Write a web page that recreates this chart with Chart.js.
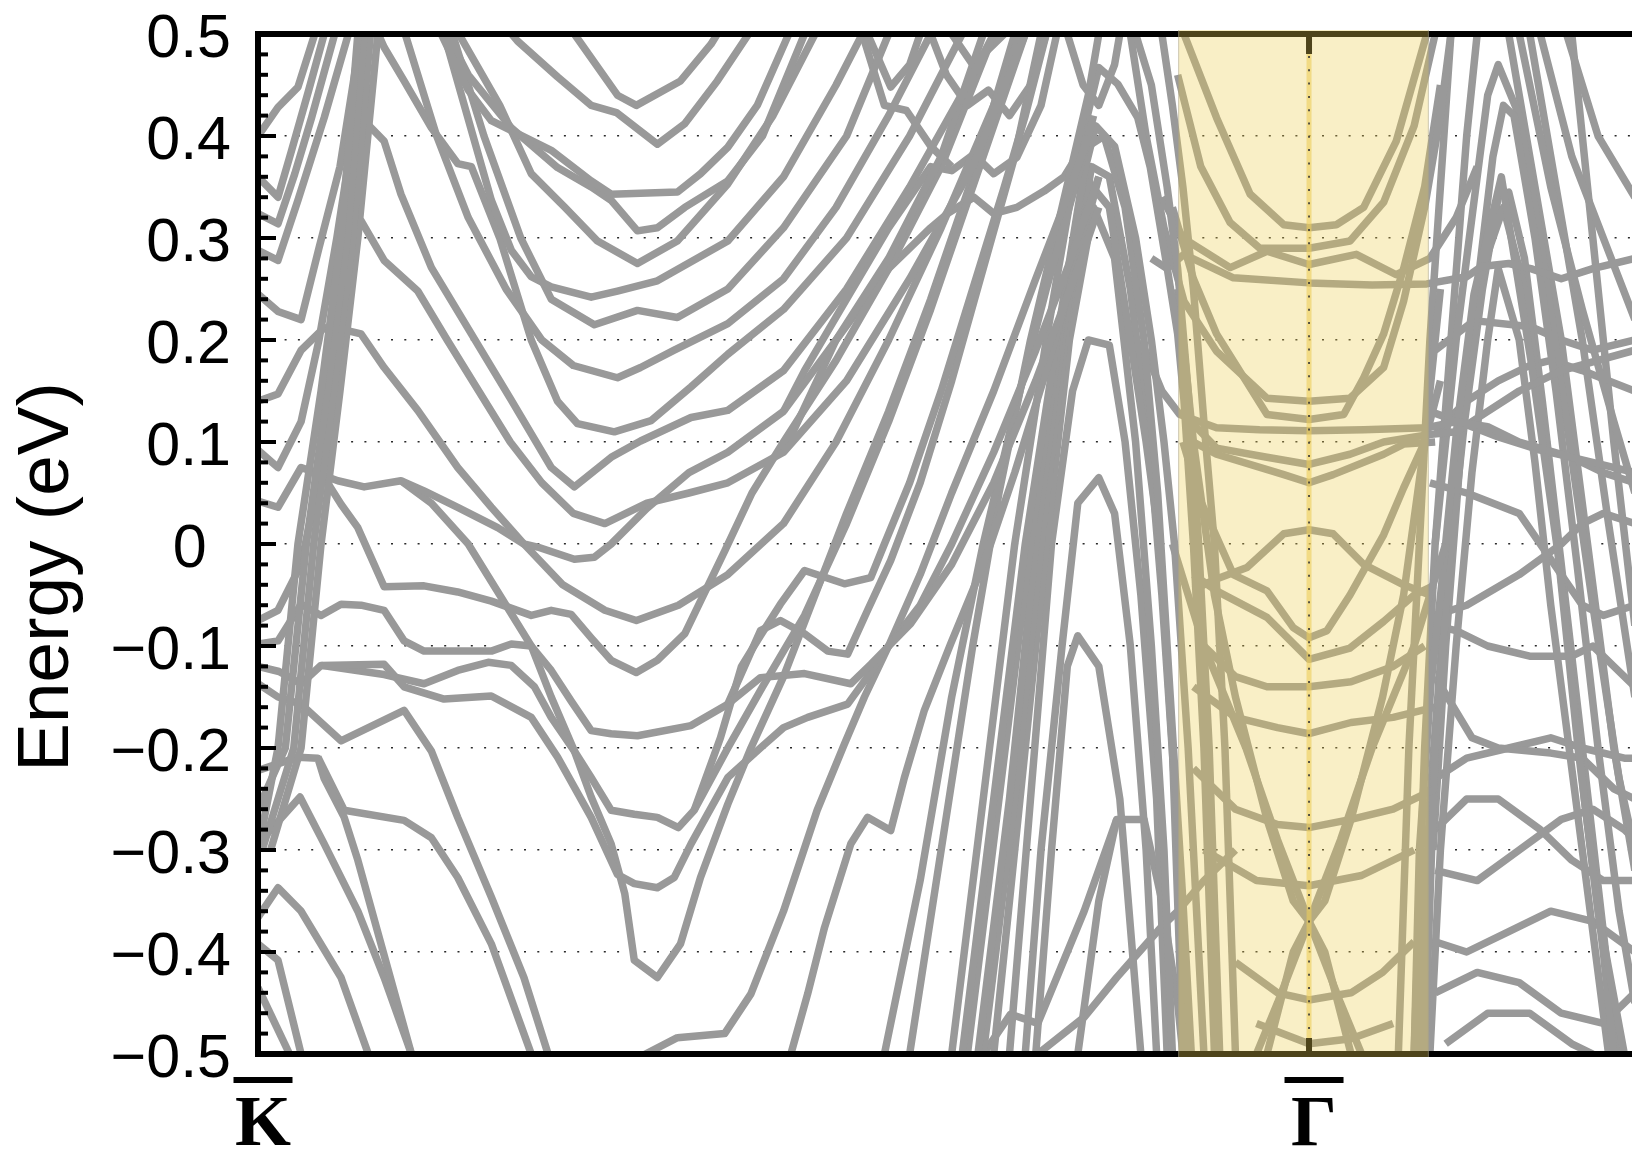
<!DOCTYPE html>
<html>
<head>
<meta charset="utf-8">
<script src="https://cdn.jsdelivr.net/npm/chart.js@4.4.1/dist/chart.umd.min.js"></script>
<style>
  html, body { margin: 0; padding: 0; background: #fff; overflow: hidden; }
  #wrap { position: relative; width: 1632px; height: 1153px; }
</style>
</head>
<body>
<div id="wrap"><canvas id="bands" width="1632" height="1153"></canvas></div>
<script>
// ---- path and axis values ----
const kPointLabels = ['K', 'Γ'];
const kPointPositions = [0, 1];          // K̄ = 0, Γ̄ = 1 along the path
const kVisibleEnd = 1.3073;              // path coordinate at the right edge
const energyTicks = [-0.5, -0.4, -0.3, -0.2, -0.1, 0, 0.1, 0.2, 0.3, 0.4, 0.5];
const highlightRange = [0.8755, 1.114];  // shaded window around Γ̄

// ---- bands, each a list of [k, E(eV)] points ----
// bands leaving K̄ and the steep bundle close to it
const bandsNearK = [
  [[0,-0.30],[0.019,-0.2],[0.038,0],[0.06,0.15],[0.079,0.3],[0.095,0.5]],
  [[0,-0.26],[0.026,-0.2],[0.046,0],[0.066,0.15],[0.085,0.3],[0.101,0.5]],
  [[0.004,-0.3],[0.034,-0.2],[0.053,0],[0.072,0.15],[0.09,0.3],[0.107,0.5]],
  [[0.012,-0.3],[0.041,-0.2],[0.06,0],[0.078,0.15],[0.095,0.3],[0.114,0.5]],
  [[0,0.40],[0.019,0.428],[0.038,0.448],[0.054,0.5]],
  [[0,0.36],[0.019,0.34],[0.032,0.386],[0.048,0.444],[0.063,0.5]],
  [[0,0.324],[0.019,0.314],[0.035,0.363],[0.051,0.418],[0.073,0.5]],
  [[0,0.288],[0.019,0.278],[0.038,0.337],[0.063,0.418],[0.086,0.5]],
  [[0,0.245],[0.019,0.228],[0.041,0.22],[0.058,0.29],[0.078,0.37],[0.098,0.5]],
  [[0,0.092],[0.019,0.075],[0.041,0.12],[0.058,0.2],[0.075,0.3],[0.09,0.4],[0.104,0.5]],
  [[0,-0.075],[0.019,-0.065],[0.041,-0.02],[0.055,0.05],[0.07,0.17],[0.085,0.32],[0.1,0.5]],
  [[0,-0.222],[0.038,-0.209],[0.057,-0.21],[0.063,-0.23],[0.082,-0.268],[0.095,-0.31],[0.146,-0.5]],
  [[0,-0.294],[0.04,-0.248],[0.063,-0.294],[0.095,-0.36],[0.12,-0.425],[0.146,-0.5]],
  [[0,-0.366],[0.019,-0.337],[0.041,-0.36],[0.079,-0.425],[0.105,-0.5]],
  [[0,-0.392],[0.019,-0.408],[0.041,-0.5]],
  [[0,-0.435],[0.03,-0.5]],
  [[0.057,-0.209],[0.082,-0.261],[0.139,-0.271],[0.165,-0.288],[0.19,-0.327],[0.222,-0.392],[0.26,-0.5]],
  [[0,-0.137],[0.019,-0.15],[0.041,-0.157],[0.079,-0.193],[0.139,-0.163],[0.165,-0.203],[0.19,-0.268],[0.222,-0.346],[0.253,-0.425],[0.276,-0.5]]
];

// nested valleys between K̄ and the middle of the path
const bandsValley = [
  [[0.301,0.5],[0.342,0.44],[0.36,0.43],[0.402,0.454],[0.431,0.49],[0.44,0.505]],
  [[0.225,0.52],[0.247,0.493],[0.285,0.458],[0.317,0.43],[0.341,0.423],[0.38,0.392],[0.406,0.412],[0.437,0.454],[0.47,0.505]],
  [[0.165,0.52],[0.2,0.445],[0.222,0.415],[0.279,0.386],[0.317,0.356],[0.336,0.343],[0.399,0.345],[0.421,0.363],[0.447,0.389],[0.475,0.43],[0.505,0.5]],
  [[0.17,0.52],[0.2,0.46],[0.241,0.408],[0.285,0.369],[0.317,0.35],[0.336,0.337],[0.361,0.307],[0.38,0.31],[0.406,0.33],[0.447,0.356],[0.48,0.4],[0.52,0.5]],
  [[0.18,0.52],[0.23,0.43],[0.26,0.363],[0.292,0.33],[0.323,0.297],[0.361,0.275],[0.399,0.297],[0.447,0.353],[0.49,0.42],[0.53,0.5]],
  [[0.177,0.5],[0.222,0.337],[0.241,0.288],[0.26,0.262],[0.279,0.252],[0.317,0.242],[0.342,0.248],[0.38,0.258],[0.447,0.297],[0.5,0.36],[0.55,0.45],[0.575,0.5]],
  [[0.185,0.5],[0.215,0.4],[0.25,0.3],[0.279,0.24],[0.32,0.215],[0.361,0.229],[0.399,0.222],[0.447,0.25],[0.5,0.31],[0.56,0.4],[0.6,0.5]],
  [[0.14,0.5],[0.17,0.4],[0.2,0.32],[0.236,0.25],[0.27,0.2],[0.3,0.175],[0.342,0.163],[0.364,0.173],[0.396,0.19],[0.447,0.216],[0.5,0.26],[0.55,0.33],[0.6,0.42],[0.64,0.5]],
  [[0.11,0.51],[0.12,0.487],[0.139,0.454],[0.165,0.408],[0.19,0.373],[0.203,0.37],[0.23,0.3],[0.26,0.2],[0.285,0.14],[0.304,0.118],[0.339,0.11],[0.374,0.121],[0.412,0.154],[0.447,0.186],[0.5,0.23],[0.56,0.3],[0.62,0.4],[0.67,0.5]],
  [[0.092,0.45],[0.101,0.415],[0.12,0.395],[0.136,0.343],[0.165,0.271],[0.203,0.206],[0.241,0.141],[0.279,0.075],[0.301,0.056],[0.336,0.085],[0.364,0.101],[0.412,0.124],[0.447,0.131],[0.5,0.17],[0.56,0.25],[0.62,0.35],[0.68,0.46],[0.7,0.5]],
  [[0.08,0.26],[0.098,0.317],[0.12,0.278],[0.152,0.248],[0.18,0.2],[0.21,0.15],[0.24,0.1],[0.27,0.06],[0.3,0.03],[0.33,0.02],[0.37,0.04],[0.41,0.05],[0.447,0.06],[0.5,0.09],[0.56,0.16],[0.62,0.26],[0.68,0.37],[0.73,0.5]],
  [[0,0.14],[0.019,0.147],[0.041,0.19],[0.063,0.212],[0.086,0.209],[0.098,0.206],[0.12,0.173],[0.152,0.131],[0.19,0.075],[0.222,0.036],[0.253,0.0],[0.266,-0.003],[0.301,-0.015],[0.32,-0.013],[0.336,0.0],[0.37,0.035],[0.41,0.07],[0.447,0.09],[0.5,0.13],[0.55,0.2],[0.6,0.28],[0.65,0.38],[0.69,0.5]],
  [[0,0.042],[0.019,0.036],[0.041,0.075],[0.076,0.062],[0.101,0.056],[0.136,0.062],[0.158,0.052],[0.19,0.036],[0.228,0.016],[0.253,0.0],[0.29,-0.04],[0.33,-0.065],[0.36,-0.075],[0.4,-0.06],[0.447,-0.03],[0.5,0.02],[0.55,0.1],[0.6,0.2],[0.65,0.31],[0.7,0.43],[0.725,0.5]],
  [[0.06,0.07],[0.079,0.039],[0.095,0.016],[0.12,-0.042],[0.158,-0.041],[0.19,-0.047],[0.222,-0.056],[0.26,-0.07],[0.279,-0.065],[0.298,-0.069],[0.317,-0.092],[0.336,-0.114],[0.36,-0.126],[0.38,-0.114],[0.406,-0.088],[0.444,-0.007],[0.47,0.05],[0.5,0.1],[0.55,0.18],[0.6,0.27],[0.65,0.37],[0.7,0.5]],
  [[0,-0.098],[0.019,-0.095],[0.041,-0.059],[0.06,-0.07],[0.079,-0.059],[0.098,-0.06],[0.12,-0.065],[0.139,-0.095],[0.158,-0.105],[0.222,-0.105],[0.241,-0.098],[0.26,-0.1],[0.279,-0.124],[0.298,-0.154],[0.317,-0.183],[0.336,-0.186],[0.361,-0.188],[0.412,-0.178],[0.447,-0.157],[0.478,-0.131],[0.52,-0.127],[0.564,-0.137],[0.583,-0.118],[0.621,-0.078],[0.66,-0.02],[0.7,0.06],[0.74,0.16],[0.78,0.27],[0.8,0.33]],
  [[0,-0.12],[0.02,-0.125],[0.041,-0.137],[0.06,-0.119],[0.12,-0.118],[0.139,-0.14],[0.177,-0.152],[0.222,-0.149],[0.26,-0.17],[0.285,-0.209],[0.317,-0.268],[0.342,-0.324],[0.358,-0.333],[0.38,-0.337],[0.396,-0.327],[0.412,-0.294],[0.447,-0.229],[0.478,-0.2],[0.5,-0.18],[0.523,-0.17],[0.561,-0.157],[0.58,-0.13],[0.6,-0.1],[0.63,-0.06],[0.66,0.0],[0.7,0.09],[0.74,0.19],[0.77,0.27],[0.79,0.33],[0.8,0.36]],
  [[0.06,-0.119],[0.12,-0.128],[0.158,-0.137],[0.19,-0.124],[0.219,-0.116],[0.241,-0.119],[0.263,-0.14],[0.279,-0.17],[0.301,-0.203],[0.317,-0.229],[0.336,-0.261],[0.358,-0.265],[0.38,-0.268],[0.4,-0.278],[0.415,-0.261],[0.447,-0.2],[0.48,-0.14],[0.52,-0.07],[0.56,0.02],[0.6,0.12],[0.64,0.23],[0.68,0.35],[0.72,0.47],[0.73,0.5]],
  [[0.136,0.062],[0.165,0.04],[0.2,0.0],[0.23,-0.05],[0.26,-0.1],[0.279,-0.15],[0.301,-0.203],[0.317,-0.248],[0.336,-0.294],[0.349,-0.343],[0.358,-0.408],[0.38,-0.425],[0.402,-0.392],[0.421,-0.327],[0.447,-0.255],[0.469,-0.2],[0.5,-0.13],[0.53,-0.05],[0.56,0.03],[0.6,0.13],[0.64,0.24],[0.68,0.36],[0.72,0.5]],
  [[0.35,-0.51],[0.399,-0.484],[0.444,-0.48],[0.469,-0.441],[0.5,-0.36],[0.532,-0.261],[0.558,-0.196],[0.577,-0.15],[0.6,-0.1],[0.63,-0.03],[0.66,0.05],[0.7,0.15],[0.74,0.26],[0.77,0.34],[0.79,0.4]]
];

// rising bands and zig-zags in the middle of the path
const bandsMiddle = [
  [[0.415,-0.261],[0.44,-0.19],[0.46,-0.12],[0.478,-0.09],[0.497,-0.059],[0.52,-0.026],[0.558,-0.039],[0.583,-0.033],[0.596,0.0],[0.62,0.06],[0.65,0.15],[0.68,0.25],[0.71,0.35],[0.73,0.42],[0.75,0.5]],
  [[0.447,-0.157],[0.478,-0.085],[0.497,-0.075],[0.52,-0.088],[0.542,-0.105],[0.561,-0.108],[0.58,-0.065],[0.602,-0.016],[0.63,0.06],[0.66,0.16],[0.69,0.27],[0.72,0.38],[0.745,0.5]],
  [[0.507,-0.5],[0.523,-0.441],[0.539,-0.376],[0.564,-0.294],[0.58,-0.268],[0.602,-0.281],[0.615,-0.229],[0.634,-0.163],[0.659,-0.098],[0.685,-0.033],[0.697,0],[0.72,0.07],[0.75,0.17],[0.78,0.28],[0.8,0.36]],
  [[0.596,-0.5],[0.63,-0.33],[0.66,-0.15],[0.69,0.0],[0.72,0.13],[0.75,0.25],[0.78,0.36],[0.795,0.42]],
  [[0.62,-0.5],[0.65,-0.3],[0.68,-0.1],[0.705,0.05],[0.735,0.2],[0.765,0.33],[0.79,0.44],[0.8,0.5]],
  [[0.5,0.13],[0.52,0.17],[0.56,0.24],[0.6,0.31],[0.64,0.37],[0.66,0.366],[0.681,0.382],[0.7,0.363],[0.722,0.379],[0.745,0.43],[0.76,0.5]],
  [[0.5,0.09],[0.55,0.2],[0.6,0.27],[0.64,0.31],[0.656,0.324],[0.681,0.34],[0.7,0.324],[0.722,0.33],[0.748,0.346],[0.767,0.36],[0.785,0.39]],
  [[0.575,0.5],[0.596,0.43],[0.617,0.425],[0.64,0.39],[0.66,0.37]],
  [[0.64,0.5],[0.655,0.46],[0.675,0.43],[0.695,0.445],[0.715,0.42],[0.735,0.45],[0.75,0.5]],
  [[0.58,0.5],[0.602,0.448],[0.62,0.47],[0.63,0.5]],
  [[0.66,0.5],[0.68,0.47],[0.7,0.49],[0.71,0.5]]
];

// the peak near k = 0.8 and its steep flanks
const bandsPeak = [
  [[0.66,-0.5],[0.69,-0.25],[0.72,0.0],[0.75,0.2],[0.78,0.38],[0.80,0.467],[0.818,0.451],[0.837,0.418],[0.849,0.369],[0.865,0.271],[0.875,0.206],[0.881,0.141],[0.89,0.0],[0.9,-0.2],[0.91,-0.5]],
  [[0.67,-0.5],[0.70,-0.25],[0.73,0.0],[0.76,0.2],[0.785,0.36],[0.797,0.41],[0.815,0.39],[0.835,0.3],[0.85,0.2],[0.862,0.1],[0.872,0.0],[0.885,-0.2],[0.9,-0.5]],
  [[0.675,-0.5],[0.705,-0.25],[0.735,0.0],[0.765,0.22],[0.79,0.39],[0.805,0.4],[0.825,0.33],[0.843,0.2],[0.856,0.05],[0.868,-0.15],[0.88,-0.35],[0.888,-0.5]],
  [[0.685,-0.5],[0.715,-0.25],[0.74,0.0],[0.765,0.2],[0.79,0.355],[0.81,0.33],[0.83,0.2],[0.845,0.1],[0.858,0.0],[0.87,-0.2],[0.88,-0.5]],
  [[0.69,-0.5],[0.72,-0.25],[0.745,0.0],[0.77,0.22],[0.793,0.37],[0.81,0.36],[0.83,0.25],[0.848,0.1],[0.86,-0.05],[0.873,-0.25],[0.885,-0.5]],
  [[0.70,-0.5],[0.725,-0.25],[0.75,0.0],[0.772,0.2],[0.795,0.33],[0.815,0.28],[0.835,0.1],[0.85,-0.1],[0.862,-0.3],[0.87,-0.5]],
  [[0.715,-0.5],[0.735,-0.25],[0.755,0.0],[0.775,0.15],[0.79,0.2],[0.81,0.195],[0.825,0.1],[0.84,-0.05],[0.855,-0.25],[0.865,-0.5]],
  [[0.73,-0.5],[0.745,-0.3],[0.765,-0.1],[0.78,0.04],[0.8,0.065],[0.815,0.03],[0.83,-0.1],[0.845,-0.3],[0.855,-0.5]],
  [[0.74,-0.5],[0.755,-0.3],[0.77,-0.12],[0.78,-0.09],[0.8,-0.12],[0.82,-0.25],[0.84,-0.5]],
  [[0.78,-0.5],[0.8,-0.35],[0.817,-0.27],[0.843,-0.27],[0.86,-0.35],[0.875,-0.45],[0.88,-0.5]],
  [[0.69,-0.5],[0.716,-0.461],[0.742,-0.47],[0.786,-0.36],[0.817,-0.27]],
  [[0.742,-0.5],[0.786,-0.464],[0.817,-0.425],[0.859,-0.376],[0.875,-0.36],[0.9,-0.33],[0.93,-0.3]],
  [[0.77,0.5],[0.785,0.45],[0.8,0.43],[0.815,0.47],[0.82,0.5]],
  [[0.835,0.5],[0.85,0.45],[0.865,0.35],[0.875,0.27],[0.885,0.15],[0.895,0.0],[0.905,-0.2],[0.915,-0.5]],
  [[0.86,0.5],[0.87,0.43],[0.88,0.35],[0.89,0.25],[0.9,0.12],[0.91,0.0],[0.92,-0.2],[0.93,-0.5]]
];

// bands centred on Γ̄
const bandsGamma = [
  [[0.872,0.52],[0.881,0.5],[0.912,0.418],[0.944,0.343],[0.976,0.313],[1.0,0.31],[1.026,0.313],[1.052,0.33],[1.083,0.395],[1.112,0.5]],
  [[0.875,0.46],[0.897,0.37],[0.925,0.315],[0.953,0.29],[1.0,0.29],[1.039,0.297],[1.071,0.335],[1.1,0.41],[1.12,0.5]],
  [[0.86,0.34],[0.88,0.3],[0.925,0.271],[0.96,0.287],[1.0,0.274],[1.045,0.284],[1.083,0.264],[1.115,0.28],[1.14,0.32],[1.16,0.37]],
  [[0.85,0.28],[0.865,0.27],[0.881,0.284],[0.928,0.261],[1.0,0.256],[1.06,0.254],[1.112,0.255],[1.15,0.262],[1.164,0.272],[1.19,0.275],[1.211,0.27],[1.24,0.26],[1.27,0.27],[1.31,0.28]],
  [[0.83,0.5],[0.845,0.4],[0.862,0.31],[0.881,0.238],[0.912,0.189],[0.96,0.143],[1.0,0.14],[1.039,0.143],[1.071,0.173],[1.09,0.238],[1.11,0.33],[1.125,0.42],[1.135,0.5]],
  [[0.87,0.33],[0.89,0.26],[0.912,0.206],[0.96,0.127],[1.0,0.122],[1.033,0.127],[1.052,0.163],[1.071,0.206],[1.09,0.27],[1.11,0.35],[1.125,0.45]],
  [[0.84,0.2],[0.86,0.15],[0.877,0.127],[0.912,0.114],[0.953,0.112],[1.0,0.111],[1.052,0.112],[1.112,0.114],[1.14,0.12],[1.17,0.115],[1.2,0.1],[1.25,0.085],[1.31,0.07]],
  [[0.881,0.127],[0.912,0.094],[0.96,0.085],[1.0,0.078],[1.039,0.088],[1.071,0.1],[1.112,0.107],[1.14,0.11],[1.17,0.13],[1.2,0.15],[1.24,0.17],[1.31,0.19]],
  [[0.89,0.1],[0.912,0.088],[0.976,0.068],[1.0,0.06],[1.023,0.068],[1.071,0.088],[1.09,0.098],[1.12,0.1]],
  [[0.89,-0.045],[0.91,-0.035],[0.941,-0.023],[0.976,0.01],[1.0,0.014],[1.023,0.01],[1.052,-0.02],[1.071,-0.03],[1.09,-0.04],[1.115,-0.05]],
  [[0.88,0.1],[0.897,0.042],[0.928,-0.03],[0.96,-0.046],[0.985,-0.082],[1.0,-0.092],[1.017,-0.085],[1.039,-0.05],[1.071,0.009],[1.09,0.055],[1.11,0.1],[1.125,0.16]],
  [[0.89,-0.03],[0.912,-0.046],[0.96,-0.072],[1.0,-0.113],[1.039,-0.102],[1.071,-0.076],[1.1,-0.05],[1.12,-0.04]],
  [[0.9,-0.1],[0.93,-0.13],[0.96,-0.14],[1.0,-0.14],[1.04,-0.135],[1.08,-0.12],[1.11,-0.1]],
  [[0.89,-0.14],[0.93,-0.17],[0.97,-0.18],[1.0,-0.186],[1.04,-0.175],[1.08,-0.17],[1.12,-0.16]],
  [[0.87,0.0],[0.9,-0.1],[0.94,-0.2],[0.97,-0.29],[1.0,-0.37],[1.03,-0.45],[1.05,-0.5]],
  [[0.95,-0.5],[0.97,-0.45],[1.0,-0.37],[1.03,-0.29],[1.06,-0.2],[1.1,-0.1],[1.13,0.0]],
  [[0.89,-0.22],[0.93,-0.26],[0.97,-0.275],[1.0,-0.278],[1.04,-0.27],[1.08,-0.26],[1.12,-0.24]],
  [[0.9,-0.3],[0.95,-0.33],[1.0,-0.335],[1.05,-0.325],[1.1,-0.3]],
  [[0.93,-0.41],[0.97,-0.44],[1.0,-0.447],[1.04,-0.44],[1.07,-0.42],[1.1,-0.39]],
  [[0.95,-0.47],[1.0,-0.49],[1.04,-0.485],[1.08,-0.47]],
  [[0.875,0.25],[0.89,0.1],[0.91,-0.05],[0.93,-0.15],[0.96,-0.27],[0.985,-0.35],[1.0,-0.37],[1.015,-0.4],[1.04,-0.5]],
  [[0.96,-0.5],[0.985,-0.4],[1.0,-0.37],[1.015,-0.35],[1.04,-0.27],[1.07,-0.15],[1.09,-0.05],[1.11,0.1],[1.125,0.25]]
];

// the second peak beyond Γ̄ and the bands crossing beneath it
const bandsRight = [
  [[1.10,-0.5],[1.105,-0.3],[1.116,-0.138],[1.126,-0.042],[1.141,0.117],[1.157,0.245],[1.183,0.36],[1.211,0.181],[1.237,-0.01],[1.256,-0.2],[1.275,-0.36],[1.3,-0.5]],
  [[1.11,-0.5],[1.12,-0.2],[1.135,0.0],[1.15,0.15],[1.165,0.27],[1.185,0.33],[1.205,0.25],[1.225,0.1],[1.245,-0.08],[1.262,-0.25],[1.28,-0.4],[1.29,-0.5]],
  [[1.118,-0.3],[1.13,-0.1],[1.145,0.1],[1.16,0.25],[1.175,0.38],[1.185,0.43],[1.195,0.42],[1.215,0.3],[1.235,0.15],[1.255,-0.02],[1.275,-0.2],[1.295,-0.36],[1.31,-0.45]],
  [[1.12,0.0],[1.14,0.2],[1.16,0.36],[1.17,0.44],[1.18,0.47],[1.2,0.42],[1.22,0.3],[1.245,0.12],[1.27,-0.06],[1.295,-0.23],[1.31,-0.3]],
  [[1.105,-0.5],[1.115,-0.25],[1.13,-0.05],[1.148,0.12],[1.165,0.25],[1.18,0.34],[1.19,0.345],[1.205,0.28],[1.222,0.14],[1.24,-0.02],[1.26,-0.2],[1.28,-0.38],[1.293,-0.5]],
  [[1.115,-0.5],[1.125,-0.3],[1.14,-0.1],[1.155,0.07],[1.17,0.2],[1.18,0.27],[1.2,0.2],[1.215,0.08],[1.23,-0.06],[1.25,-0.22],[1.27,-0.38],[1.285,-0.5]],
  [[1.2,0.5],[1.23,0.35],[1.26,0.23],[1.29,0.12],[1.31,0.05]],
  [[1.22,0.5],[1.25,0.38],[1.28,0.3],[1.31,0.22]],
  [[1.245,0.5],[1.275,0.4],[1.31,0.34]],
  [[1.25,0.5],[1.27,0.3],[1.29,0.1],[1.31,-0.08]],
  [[1.085,-0.5],[1.095,-0.2],[1.105,0.0],[1.115,0.2],[1.125,0.35],[1.135,0.5]],
  [[1.1,-0.5],[1.11,-0.2],[1.12,0.0],[1.135,0.2],[1.15,0.4],[1.16,0.5]],
  [[1.19,0.5],[1.215,0.35],[1.24,0.2],[1.265,0.0],[1.29,-0.2],[1.31,-0.32]],
  [[1.21,0.5],[1.235,0.35],[1.26,0.2],[1.285,0.02],[1.31,-0.15]],
  [[1.12,0.19],[1.157,0.219],[1.211,0.213],[1.24,0.2],[1.27,0.19],[1.31,0.2]],
  [[1.12,0.11],[1.15,0.14],[1.18,0.16],[1.21,0.175],[1.23,0.18],[1.26,0.17],[1.31,0.15]],
  [[1.115,0.13],[1.15,0.117],[1.18,0.105],[1.22,0.092],[1.25,0.085],[1.28,0.07],[1.31,0.06]],
  [[1.115,0.06],[1.15,0.05],[1.2,0.03],[1.24,-0.03],[1.26,-0.06],[1.28,-0.07],[1.31,-0.06]],
  [[1.12,-0.07],[1.15,-0.06],[1.2,-0.03],[1.24,0.0],[1.26,0.02],[1.28,0.03],[1.31,0.02]],
  [[1.12,-0.08],[1.14,-0.085],[1.17,-0.1],[1.21,-0.11],[1.25,-0.11],[1.27,-0.1],[1.29,-0.12],[1.31,-0.14]],
  [[1.12,-0.13],[1.155,-0.19],[1.18,-0.2],[1.23,-0.205],[1.26,-0.21],[1.29,-0.24],[1.31,-0.25]],
  [[1.12,-0.23],[1.15,-0.21],[1.19,-0.2],[1.23,-0.19],[1.26,-0.2],[1.3,-0.21],[1.31,-0.21]],
  [[1.12,-0.28],[1.15,-0.25],[1.18,-0.25],[1.22,-0.28],[1.25,-0.31],[1.28,-0.33],[1.31,-0.33]],
  [[1.12,-0.32],[1.16,-0.33],[1.2,-0.3],[1.24,-0.27],[1.27,-0.26],[1.3,-0.28],[1.31,-0.29]],
  [[1.12,-0.39],[1.15,-0.4],[1.19,-0.38],[1.23,-0.36],[1.27,-0.37],[1.31,-0.4]],
  [[1.12,-0.44],[1.16,-0.42],[1.2,-0.43],[1.24,-0.46],[1.28,-0.47],[1.31,-0.44]],
  [[1.13,-0.49],[1.17,-0.46],[1.21,-0.46],[1.25,-0.49],[1.27,-0.5]]
];

// ---- datasets ----
const bandGroups = [bandsNearK, bandsValley, bandsMiddle, bandsPeak, bandsGamma, bandsRight];
const datasets = bandGroups.flat().map(band => ({
  data: band.map(([k, e]) => ({ x: k, y: e })),
  showLine: true,
  borderColor: '#999999',
  borderWidth: 7.5,
  borderJoinStyle: 'round',
  borderCapStyle: 'butt',
  pointRadius: 0,
  pointHoverRadius: 0,
  fill: false,
  tension: 0
}));

const fmtEnergy = v => {
  if (Math.abs(v) < 1e-9) return '0\u2009\u2009';
  const s = Math.abs(v).toFixed(1);
  return v < 0 ? '\u2212' + s : s;
};

// frame, inward ticks, Γ̄ window, path labels and the energy title
const decorations = {
  id: 'decorations',
  afterDatasetsDraw(chart) {
    const { ctx, chartArea: a, scales: { x, y } } = chart;
    ctx.save();

    // frame (left, top, bottom)
    ctx.strokeStyle = '#000';
    ctx.lineWidth = 6;
    ctx.lineCap = 'butt';
    ctx.beginPath();
    ctx.moveTo(a.right + 4, a.top);
    ctx.lineTo(a.left, a.top);
    ctx.lineTo(a.left, a.bottom);
    ctx.lineTo(a.right + 4, a.bottom);
    ctx.stroke();

    // inward energy ticks every 0.02 eV
    for (let i = -25; i <= 25; i++) {
      const py = y.getPixelForValue(i * 0.02);
      const major = i % 5 === 0;
      ctx.lineWidth = 4;
      ctx.beginPath();
      ctx.moveTo(a.left, py);
      ctx.lineTo(a.left + (major ? 18 : 10), py);
      ctx.stroke();
    }

    // ticks at Γ̄ on the top and bottom edges
    const gx = x.getPixelForValue(kPointPositions[1]);
    ctx.lineWidth = 6;
    ctx.beginPath();
    ctx.moveTo(gx, a.top); ctx.lineTo(gx, a.top + 20);
    ctx.moveTo(gx, a.bottom); ctx.lineTo(gx, a.bottom - 16);
    ctx.stroke();

    // shaded window around Γ̄
    const x0 = x.getPixelForValue(highlightRange[0]);
    const x1 = x.getPixelForValue(highlightRange[1]);
    ctx.fillStyle = 'rgba(237,207,81,0.33)';
    ctx.fillRect(x0, a.top - 4, x1 - x0, a.bottom - a.top + 7);
    ctx.strokeStyle = 'rgba(150,150,150,0.45)';
    ctx.lineWidth = 1;
    ctx.beginPath();
    ctx.moveTo(x0 + 0.5, a.top - 4); ctx.lineTo(x0 + 0.5, a.bottom + 3);
    ctx.moveTo(x1 - 0.5, a.top - 4); ctx.lineTo(x1 - 0.5, a.bottom + 3);
    ctx.stroke();

    // Γ̄ line
    ctx.strokeStyle = 'rgba(236,205,90,0.6)';
    ctx.lineWidth = 5;
    ctx.beginPath();
    ctx.moveTo(gx, a.top + 20); ctx.lineTo(gx, a.bottom - 16);
    ctx.stroke();
    ctx.strokeStyle = '#333';
    ctx.lineWidth = 1.6;
    ctx.setLineDash([2, 11.3]);
    ctx.beginPath();
    ctx.moveTo(gx, a.top + 22); ctx.lineTo(gx, a.bottom - 16);
    ctx.stroke();
    ctx.setLineDash([]);

    // path labels with overbars
    ctx.fillStyle = '#000';
    ctx.font = 'bold 72px "Liberation Serif", "Times New Roman", serif';
    ctx.textAlign = 'center';
    ctx.textBaseline = 'alphabetic';
    kPointLabels.forEach((lab, i) => {
      const cx = x.getPixelForValue(kPointPositions[i]) + 5;
      ctx.fillText(lab, cx, 1145);
      ctx.fillRect(cx - 29.5, 1077, 59, 6);
    });

    // energy axis title
    ctx.save();
    ctx.translate(68, 577);
    ctx.rotate(-Math.PI / 2);
    ctx.font = '73px "Liberation Sans", Arial, sans-serif';
    ctx.textAlign = 'center';
    ctx.textBaseline = 'alphabetic';
    ctx.fillText('Energy (eV)', 0, 0);
    ctx.restore();

    ctx.restore();
  }
};

new Chart(document.getElementById('bands').getContext('2d'), {
  type: 'scatter',
  data: { datasets },
  options: {
    responsive: false,
    animation: false,
    devicePixelRatio: 1,
    layout: { padding: { top: 34, right: 0, bottom: 0, left: 0 } },
    plugins: { legend: { display: false }, tooltip: { enabled: false } },
    events: [],
    scales: {
      x: {
        type: 'linear',
        min: 0,
        max: kVisibleEnd,
        ticks: { display: false },
        grid: { display: false },
        border: { display: false },
        afterFit: s => { s.height = 99; s.paddingLeft = 0; s.paddingRight = 0; }
      },
      y: {
        type: 'linear',
        min: -0.5,
        max: 0.5,
        afterBuildTicks: s => { s.ticks = energyTicks.map(v => ({ value: v })); },
        ticks: {
          callback: v => fmtEnergy(v),
          color: '#000',
          font: { family: '"Liberation Sans", Arial, sans-serif', size: 61, lineHeight: 1 },
          padding: 27,
          labelOffset: 6
        },
        grid: {
          drawTicks: false,
          lineWidth: 1.6,
          color: c => (c.tick && Math.abs(c.tick.value) > 0.499 ? 'rgba(0,0,0,0)' : '#2a2a2a')
        },
        border: { display: false, dash: [2, 11.3] },
        afterFit: s => { s.width = 258; s.paddingTop = 0; s.paddingBottom = 0; }
      }
    }
  },
  plugins: [decorations]
});
</script>
</body>
</html>
